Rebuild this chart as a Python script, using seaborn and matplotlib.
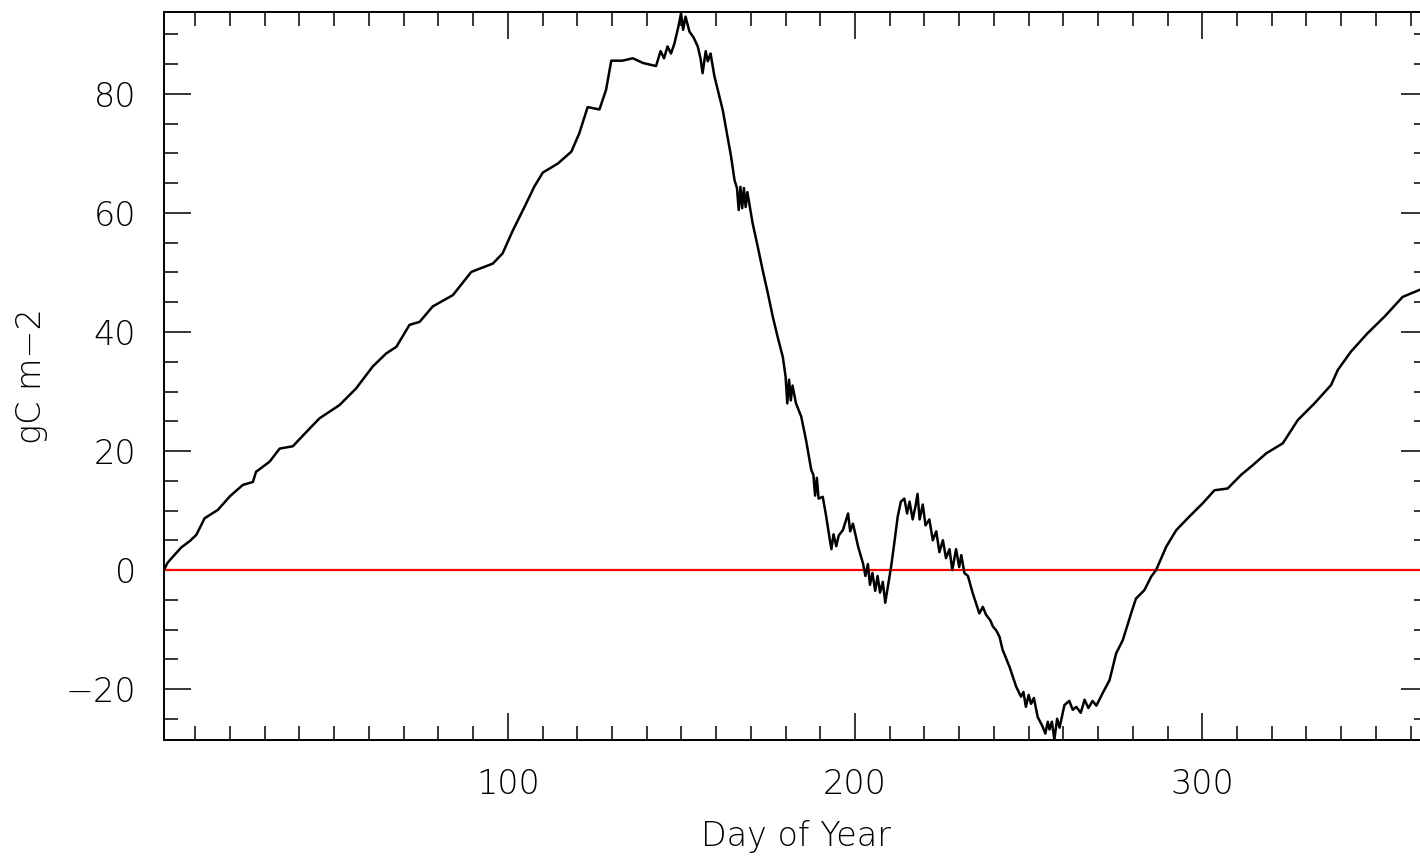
import matplotlib
matplotlib.use("Agg")
import matplotlib.pyplot as plt
from matplotlib.ticker import MultipleLocator
import seaborn as sns
import pandas as pd

# ---- data ----
days = [1.0, 2.0, 3.5, 6.0, 8.5, 10.3, 12.7, 16.5, 20.0, 23.7, 26.6, 27.5, 31.4, 34.3, 38.1,
        42.0, 45.8, 51.5, 56.3, 61.1, 65.0, 67.9, 71.7, 74.6, 78.4, 84.2, 89.5, 95.7, 98.5,
        101.4, 104.8, 107.7, 110.1, 114.4, 118.3, 120.6, 123.0, 126.4, 128.3, 129.8, 133.0,
        136.0, 139.0, 142.7, 144.0, 145.0, 146.0, 147.0, 148.0, 149.2, 149.9, 150.5, 151.2,
        152.3, 153.5, 154.7, 155.5, 156.1, 157.0, 157.6, 158.4, 159.5, 161.9, 164.3, 165.3,
        166.0, 166.5, 167.0, 167.5, 168.0, 168.5, 169.0, 170.0, 170.5, 172.0, 173.4, 174.9,
        176.3, 177.7, 179.2, 180.0, 180.5, 181.0, 181.5, 182.0, 183.0, 184.5, 185.9, 187.4,
        188.0, 188.5, 189.0, 189.5, 190.7, 191.7, 192.6, 193.2, 193.8, 194.6, 195.3, 196.5,
        197.2, 198.0, 198.6, 199.4, 200.9, 202.3, 203.0, 203.7, 204.3, 205.0, 205.8, 206.5,
        207.2, 208.0, 208.7, 209.4, 210.4, 211.3, 212.3, 213.2, 214.2, 215.0, 215.7, 216.6,
        217.5, 218.0, 218.6, 219.5, 220.3, 221.4, 222.4, 223.4, 224.3, 225.3, 226.2, 227.2,
        228.0, 229.1, 230.0, 230.6, 231.5, 232.5, 233.9, 235.8, 236.8, 237.7, 239.0, 239.7,
        240.6, 241.6, 242.5, 244.5, 246.4, 247.8, 248.5, 249.2, 250.0, 250.7, 251.5, 252.6,
        254.0, 254.8, 255.5, 256.0, 256.7, 257.4, 258.2, 258.9, 260.3, 261.7, 262.7, 263.7,
        265.0, 266.1, 267.2, 268.4, 269.5, 271.3, 273.3, 275.2, 277.1, 279.5, 280.9, 283.3,
        285.3, 286.7, 289.6, 292.5, 296.3, 300.1, 303.5, 307.3, 311.2, 314.5, 318.4, 323.2,
        327.5, 332.3, 337.1, 339.0, 342.8, 347.6, 352.5, 357.7, 362.6, 365.0]

nee_cum = [0.0, 1.2, 2.2, 3.8, 4.9, 5.9, 8.7, 10.1, 12.4, 14.3, 14.8, 16.5, 18.2, 20.4, 20.8,
           23.2, 25.5, 27.7, 30.5, 34.2, 36.4, 37.5, 41.2, 41.7, 44.3, 46.2, 50.1, 51.5, 53.2,
           57.0, 61.0, 64.5, 66.8, 68.3, 70.3, 73.4, 77.8, 77.4, 80.7, 85.6, 85.6,
           86.0, 85.2, 84.7, 87.2, 86.0, 88.0, 86.8, 88.5, 91.5, 93.6, 90.8, 93.0,
           90.5, 89.5, 88.0, 86.0, 83.5, 87.2, 85.5, 86.8, 83.0, 77.3, 69.5, 65.5,
           64.2, 60.5, 64.4, 60.8, 64.2, 61.0, 63.5, 60.0, 58.3, 54.3, 50.4, 46.5,
           42.6, 39.2, 35.8, 32.5, 28.0, 32.0, 28.5, 31.0, 28.0, 25.8, 21.8, 16.8,
           16.0, 12.5, 15.5, 12.0, 12.3, 9.0, 5.6, 3.5, 6.0, 4.0, 5.8, 6.7,
           8.0, 9.5, 6.5, 7.8, 3.9, 1.1, -1.0, 1.0, -2.5, -0.5, -3.5, -1.0,
           -3.8, -2.0, -5.5, -3.0, 0.6, 4.5, 9.0, 11.5, 12.0, 9.5, 11.5, 8.5,
           11.0, 12.8, 8.5, 11.0, 7.5, 8.5, 5.0, 6.5, 3.0, 5.0, 2.0, 3.5,
           0.0, 3.5, 0.5, 2.5, -0.5, -1.0, -3.9, -7.3, -6.2, -7.5, -8.5, -9.5,
           -10.1, -11.2, -13.4, -16.3, -19.6, -21.3, -20.5, -23.0, -21.0, -22.5, -21.5, -24.7,
           -26.3, -27.5, -25.5, -26.8, -25.5, -28.5, -25.0, -26.5, -22.7, -22.0, -23.5, -23.0,
           -24.0, -21.8, -23.2, -22.0, -22.8, -20.7, -18.5, -14.0, -11.8, -7.3, -4.8, -3.4,
           -1.1, 0.0, 3.9, 6.7, 9.0, 11.2, 13.4, 13.7, 16.0, 17.6, 19.6, 21.3,
           25.2, 28.0, 31.1, 33.6, 36.7, 39.8, 42.6, 45.9, 47.1, 47.6]

x_major_ticks = [100, 200, 300]
x_label = "Day of Year"
y_label = "gC m\u22122"

df = pd.DataFrame({"day": days, "nee": nee_cum})

sns.set_style("ticks")
plt.rcParams["font.family"] = ["DejaVu Sans"]
plt.rcParams["axes.unicode_minus"] = True
plt.rcParams["text.color"] = "black"
plt.rcParams["axes.labelcolor"] = "black"
plt.rcParams["xtick.color"] = "black"
plt.rcParams["ytick.color"] = "black"

fig = plt.figure(figsize=(14.2, 8.56), dpi=100)
W, H = 1420, 856
left, right, top, bottom = 164, 1428, 12, 740
ax = fig.add_axes([left / W, 1 - bottom / H, (right - left) / W, (bottom - top) / H])

ax.axhline(0, color="red", linewidth=1.6, zorder=1)
sns.lineplot(data=df, x="day", y="nee", ax=ax, color="black", linewidth=1.8,
             estimator=None, sort=False, zorder=2)

ax.set_xlim(1, 365)
ax.set_ylim(-28.57, 93.78)
ax.set_xticks(x_major_ticks)
ax.xaxis.set_minor_locator(MultipleLocator(10))
ax.yaxis.set_major_locator(MultipleLocator(20))
ax.yaxis.set_minor_locator(MultipleLocator(5))

for s in ax.spines.values():
    s.set_linewidth(1.4)
    s.set_color("black")

ax.tick_params(which="major", direction="in", length=19.5, width=1.1,
               top=True, right=True, labelsize=24, pad=20,
               colors="black", labelcolor="black")
ax.tick_params(which="minor", direction="in", length=10, width=1.1,
               top=True, right=True, colors="black")
for lab in ax.get_xticklabels() + ax.get_yticklabels():
    lab.set_fontweight("light")
    lab.set_color("black")

ax.set_xlabel(x_label, fontsize=24, fontweight="light", labelpad=14, color="black")
ax.set_ylabel(y_label, fontsize=24, fontweight="light", labelpad=13, color="black")

fig.savefig("out.png", dpi=100)
